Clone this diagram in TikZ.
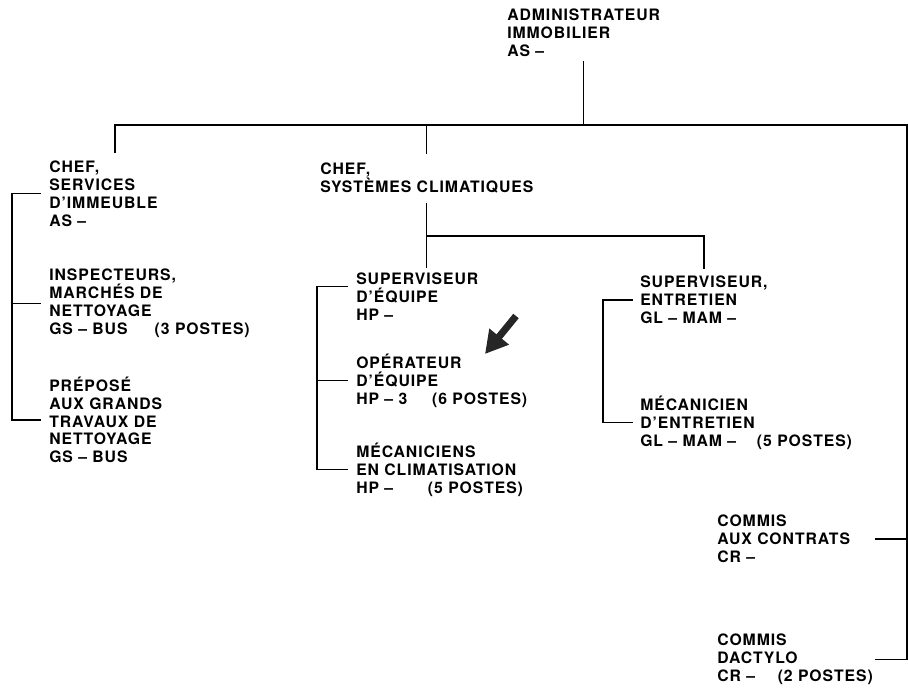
\documentclass[tikz,border=0pt]{standalone}
\usepackage{fontspec}
\setmainfont{TeX Gyre Heros}[LetterSpace=6]
\usepackage{tikz}
\usetikzlibrary{arrows.meta, calc}

\begin{document}
\begin{tikzpicture}[x=0.025cm, y=-0.025cm,
  poste/.style={anchor=north west, inner sep=0pt, align=left,
    font=\fontsize{11.2}{12.6}\selectfont\bfseries,
    execute at begin node={\rule{0pt}{10pt}}},
  lien/.style={line width=0.9pt, line cap=rect}]
\useasboundingbox (0,0) rectangle (908,696);
% postes
\path
(507,9) node[poste] (admin) {ADMINISTRATEUR\\IMMOBILIER\\AS –};
\path
(49,161) node[poste] (chefsvc) {CHEF,\\SERVICES\\D’IMMEUBLE\\AS –};
\path
(49,269) node[poste] (inspect) {INSPECTEURS,\\MARCHÉS DE\\NETTOYAGE\\\makebox[75pt][l]{GS – BUS}(3 POSTES)};
\path
(49,377) node[poste] (prepose) {PRÉPOSÉ\\AUX GRANDS\\TRAVAUX DE\\NETTOYAGE\\GS – BUS};
\path
(320,163) node[poste] (chefclim) {CHEF,\\SYSTÈMES CLIMATIQUES};
\path
(356,273) node[poste] (supeq) {SUPERVISEUR\\D’ÉQUIPE\\HP –};
\path
(356,354) node[poste] (operat) {OPÉRATEUR\\D’ÉQUIPE\\\makebox[54pt][l]{HP – 3}(6 POSTES)};
\path
(356,443) node[poste] (mecclim) {MÉCANICIENS\\EN CLIMATISATION\\\makebox[51pt][l]{HP –}(5 POSTES)};
\path
(640,276) node[poste] (supent) {SUPERVISEUR,\\ENTRETIEN\\GL – MAM –};
\path
(640,396) node[poste] (mecent) {MÉCANICIEN\\D’ENTRETIEN\\\makebox[83pt][l]{GL – MAM –}(5 POSTES)};
\path
(717,515) node[poste] (contrat) {COMMIS\\AUX CONTRATS\\CR –};
\path
(717,634) node[poste] (dactylo) {COMMIS\\DACTYLO\\\makebox[43pt][l]{CR –}(2 POSTES)};
% reperes
\coordinate (barL) at (115,125);
\coordinate (barR) at (907,125);
\coordinate (climbar) at (0,236);
\coordinate (brL) at (12,0);
\coordinate (brM) at (317,0);
\coordinate (brR) at (603,0);
\coordinate (stubR) at (876,0);
% liens
\draw[lien] (barL) -- (barR);
\draw[lien] ([yshift=-3.5pt]admin.south) -- (admin.south |- barL);
\draw[lien] (barL) -- ([yshift=6.4pt]barL |- chefsvc.north);
\draw[lien] (chefclim.north |- barL) -- ([yshift=7pt]chefclim.north);
\draw[lien] ([yshift=-7pt]chefclim.south) -- ([yshift=4.3pt]chefclim.south |- supeq.north);
\draw[lien] (chefclim.south |- climbar) -| ([yshift=5.5pt]supent.north);
\draw[lien] ($(chefsvc.west)+(-9,0)$) -| (brL |- prepose.west) -- ($(prepose.west)+(-9,0)$);
\draw[lien] ($(inspect.west)+(-9,0)$) -- (brL |- inspect.west);
\draw[lien] ($(supeq.west)+(-9,-10)$) -| (brM |- mecclim.west) -- ($(mecclim.west)+(-9,0)$);
\draw[lien] ($(operat.west)+(-9,0)$) -- (brM |- operat.west);
\draw[lien] ($(supent.west)+(-8,0)$) -| (brR |- mecent.west) -- ($(mecent.west)+(-8,0)$);
\draw[lien] (barR) -- (barR |- dactylo.east) -- (stubR |- dactylo.east);
\draw[lien] (stubR |- contrat.east) -- (barR |- contrat.east);
% fleche
\coordinate (arrtail) at (516,316);
\coordinate (arrtip) at (485,354);
\draw[line width=5pt, black!85, -{Triangle[length=16pt, width=17pt]}] (arrtail) -- (arrtip);
\end{tikzpicture}
\end{document}
